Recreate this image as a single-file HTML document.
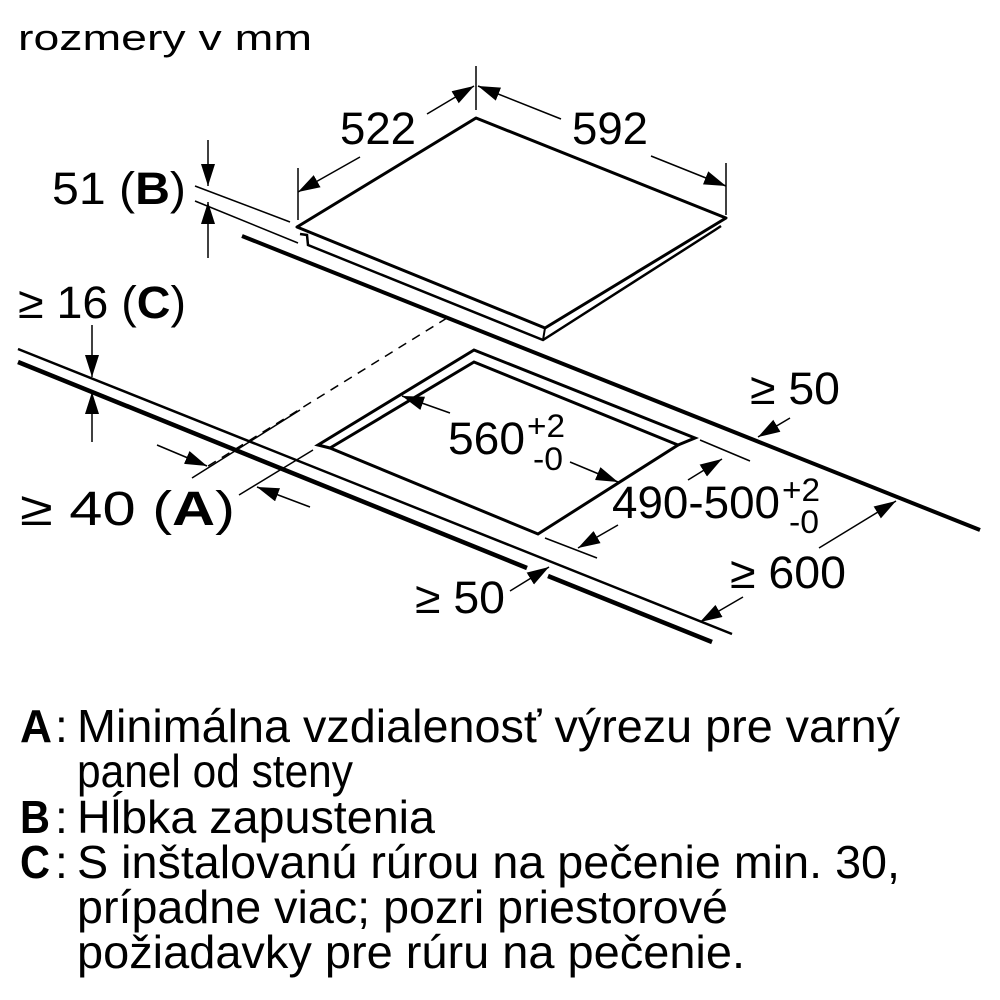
<!DOCTYPE html>
<html><head><meta charset="utf-8"><style>
html,body{margin:0;padding:0;background:#fff;}
svg{display:block;}
text{font-family:"Liberation Sans",sans-serif;fill:#000;}
</style></head><body>
<svg width="1000" height="1000" viewBox="0 0 1000 1000" xmlns="http://www.w3.org/2000/svg">
<defs>
<marker id="a" markerUnits="userSpaceOnUse" markerWidth="24" markerHeight="16" refX="22" refY="7" orient="auto">
<path d="M0,0 L22,7 L0,14 Z" fill="#000"/>
</marker>
</defs>
<text x="18" y="50" font-size="36" textLength="294" lengthAdjust="spacingAndGlyphs">rozmery v mm</text>

<g stroke="#000" fill="none">
<path d="M297,227 L476,118 L726,218 L545,328 Z" stroke-width="3" fill="#fff" stroke-linejoin="round"/>
<path d="M300,234 L307,235 L308,245 L543,340 L715,230 L721,226" stroke-width="2.5"/>
<path d="M545,328 L543,340" stroke-width="2"/>
<line x1="242" y1="236" x2="980" y2="530" stroke-width="4"/>
<line x1="447" y1="318" x2="205" y2="468" stroke-width="1.5" stroke-dasharray="9,7"/>
<line x1="18" y1="349" x2="732" y2="634" stroke-width="2.5"/>
<line x1="18" y1="362" x2="527" y2="568" stroke-width="4.5"/>
<line x1="548" y1="576" x2="712" y2="642" stroke-width="4.5"/>
<path d="M330,448 L318,445 L474,350 L695,438 L678,445" stroke-width="3"/>
<path d="M330,448 L474,362 L678,445 L538,534 Z" stroke-width="3" stroke-linejoin="miter"/>
<g stroke-width="1.5">
<line x1="476" y1="66" x2="476" y2="110"/>
<line x1="298" y1="168" x2="298" y2="220"/>
<line x1="726" y1="163" x2="726" y2="215"/>
<line x1="195" y1="186" x2="290" y2="222"/>
<line x1="195" y1="201" x2="298" y2="243"/>
<line x1="192" y1="478" x2="300" y2="410"/>
<line x1="239" y1="495" x2="313" y2="450"/>
<line x1="700" y1="440" x2="750" y2="461"/>
<line x1="545" y1="538" x2="597" y2="558"/>
<line x1="208" y1="140" x2="208" y2="186" marker-end="url(#a)"/>
<line x1="208" y1="258" x2="208" y2="202" marker-end="url(#a)"/>
<line x1="92" y1="325" x2="92" y2="377" marker-end="url(#a)"/>
<line x1="92" y1="442" x2="92" y2="392" marker-end="url(#a)"/>
<line x1="427" y1="114" x2="474" y2="86" marker-end="url(#a)"/>
<line x1="561" y1="119" x2="478" y2="86" marker-end="url(#a)"/>
<line x1="360" y1="157" x2="298" y2="192" marker-end="url(#a)"/>
<line x1="651" y1="156" x2="726" y2="186" marker-end="url(#a)"/>
<line x1="157" y1="445" x2="207" y2="466" marker-end="url(#a)"/>
<line x1="310" y1="507" x2="257" y2="487" marker-end="url(#a)"/>
<line x1="450" y1="413" x2="402" y2="396" marker-end="url(#a)"/>
<line x1="570" y1="462" x2="618" y2="482" marker-end="url(#a)"/>
<line x1="688" y1="480" x2="722" y2="459" marker-end="url(#a)"/>
<line x1="618" y1="525" x2="578" y2="548" marker-end="url(#a)"/>
<line x1="790" y1="418" x2="758" y2="437" marker-end="url(#a)"/>
<line x1="819" y1="548" x2="896" y2="501" marker-end="url(#a)"/>
<line x1="743" y1="597" x2="700" y2="622" marker-end="url(#a)"/>
<line x1="510" y1="591" x2="549" y2="567" marker-end="url(#a)"/>
</g>
</g>

<g font-size="45">
<text x="340" y="144" textLength="76" lengthAdjust="spacingAndGlyphs">522</text>
<text x="572" y="144" textLength="76" lengthAdjust="spacingAndGlyphs">592</text>
<text x="52" y="204" textLength="134" lengthAdjust="spacingAndGlyphs">51 (<tspan font-weight="bold">B</tspan>)</text>
<text x="18" y="318" textLength="168" lengthAdjust="spacingAndGlyphs">≥ 16 (<tspan font-weight="bold">C</tspan>)</text>
<text x="750" y="404" textLength="90" lengthAdjust="spacingAndGlyphs">≥ 50</text>
<text x="448" y="454" textLength="77" lengthAdjust="spacingAndGlyphs">560</text>
<text x="527" y="437" font-size="32" textLength="38" lengthAdjust="spacingAndGlyphs">+2</text>
<text x="533" y="470" font-size="32" textLength="30" lengthAdjust="spacingAndGlyphs">-0</text>
<text x="612" y="518" textLength="168" lengthAdjust="spacingAndGlyphs">490-500</text>
<text x="782" y="501" font-size="32" textLength="38" lengthAdjust="spacingAndGlyphs">+2</text>
<text x="789" y="533" font-size="32" textLength="30" lengthAdjust="spacingAndGlyphs">-0</text>
<text x="20" y="525" font-size="48" textLength="215" lengthAdjust="spacingAndGlyphs">≥ 40 (<tspan font-weight="bold">A</tspan>)</text>
<text x="730" y="588" textLength="116" lengthAdjust="spacingAndGlyphs">≥ 600</text>
<text x="415" y="613" textLength="90" lengthAdjust="spacingAndGlyphs">≥ 50</text>
</g>

<g font-size="46">
<text x="20" y="742" font-weight="bold" textLength="32" lengthAdjust="spacingAndGlyphs">A</text>
<text x="55" y="742">:</text>
<text x="77" y="742" textLength="823" lengthAdjust="spacingAndGlyphs">Minimálna vzdialenosť výrezu pre varný</text>
<text x="77" y="787" textLength="276" lengthAdjust="spacingAndGlyphs">panel od steny</text>
<text x="20" y="833" font-weight="bold" textLength="30" lengthAdjust="spacingAndGlyphs">B</text>
<text x="55" y="833">:</text>
<text x="77" y="833" textLength="358" lengthAdjust="spacingAndGlyphs">Hĺbka zapustenia</text>
<text x="20" y="878" font-weight="bold" textLength="30" lengthAdjust="spacingAndGlyphs">C</text>
<text x="55" y="878">:</text>
<text x="77" y="878" textLength="823" lengthAdjust="spacingAndGlyphs">S inštalovanú rúrou na pečenie min. 30,</text>
<text x="77" y="923" textLength="651" lengthAdjust="spacingAndGlyphs">prípadne viac; pozri priestorové</text>
<text x="77" y="968" textLength="668" lengthAdjust="spacingAndGlyphs">požiadavky pre rúru na pečenie.</text>
</g>
</svg>
</body></html>
